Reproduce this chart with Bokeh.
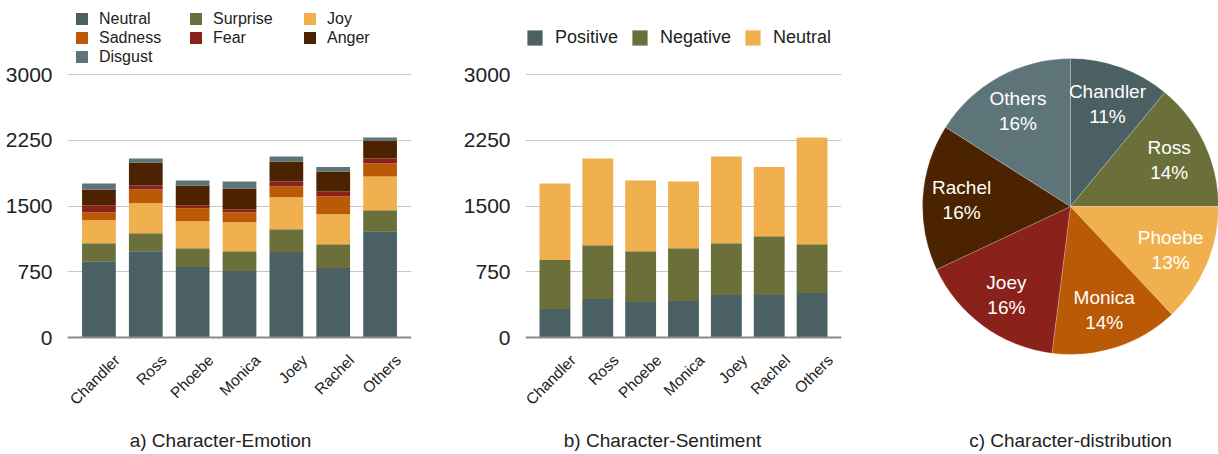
import math
from bokeh.plotting import figure
from bokeh.models import FactorRange, Range1d, FixedTicker, Label, ColumnDataSource, Span
from bokeh.layouts import row
from bokeh.embed import file_html
from bokeh.resources import INLINE
from bokeh.core.properties import value

FONT = "Liberation Sans"
TEXT = "#222222"

# ---------------- data ----------------
characters = ["Chandler", "Ross", "Phoebe", "Monica", "Joey", "Rachel", "Others"]

emotions = ["Neutral", "Surprise", "Joy", "Sadness", "Fear", "Anger", "Disgust"]
emo_neutral = [871, 985, 803, 758, 974, 792, 1212]
emo_surprise = [205, 204, 216, 227, 261, 272, 239]
emo_joy = [261, 341, 307, 329, 364, 341, 386]
emo_sadness = [91, 159, 147, 114, 125, 205, 148]
emo_fear = [80, 46, 35, 34, 56, 57, 57]
emo_anger = [181, 261, 227, 239, 228, 227, 204]
emo_disgust = [69, 46, 57, 79, 56, 51, 34]
emotion_colors = ["#4a6063", "#6b703a", "#f0b04e", "#bb5a06", "#8b211b", "#4b2300", "#5d7478"]

sentiments = ["Positive", "Negative", "Neutral"]
sen_positive = [326, 439, 405, 417, 485, 485, 508]
sen_negative = [557, 614, 580, 602, 591, 670, 556]
sen_neutral = [875, 989, 807, 761, 988, 790, 1216]
sentiment_colors = ["#4a6063", "#6b703a", "#f0b04e"]

y_ticks = [0, 750, 1500, 2250, 3000]

pie_share = [11, 14, 13, 14, 16, 16, 16]
pie_colors = ["#4a6063", "#6b703a", "#f0b04e", "#bb5a06", "#8b211b", "#4b2300", "#5d7478"]

titles = ["a) Character-Emotion", "b) Character-Sentiment", "c) Character-distribution"]

# ---------------- layout constants (pixels) ----------------
FIG_H = 454
ZERO_Y = 337        # page y of value 0
PX_PER_UNIT = 263.0 / 3000.0
TITLE_Y = 440
XLAB_Y = 357
PAD = 8             # frame margin beside the outer bars' slots


def to_val(py):
    return (ZERO_Y - py) / PX_PER_UNIT


def bar_chart(width, slots_left, slots_right, names, series, colors, title, title_dx,
              legend_loc, ncols, glyph, standoff, spacing, label_width, label_font):
    data = {"character": characters}
    for n, s in zip(names, series):
        data[n] = s
    src = ColumnDataSource(data)
    slot = (slots_right - slots_left) / len(characters)
    rp = 2 * (PAD / slot) / len(characters)
    p = figure(width=width, height=FIG_H,
               x_range=FactorRange(*characters, range_padding=rp, range_padding_units="percent"),
               y_range=Range1d(to_val(FIG_H), to_val(0)), toolbar_location=None,
               output_backend="svg", min_border_left=slots_left - PAD,
               min_border_right=width - slots_right - PAD,
               min_border_top=0, min_border_bottom=0, x_axis_location=None)
    p.vbar_stack(names, x="character", width=0.72, color=colors, line_color=None,
                 source=src, legend_label=names)
    p.outline_line_color = None
    p.xgrid.grid_line_color = None
    p.ygrid.ticker = FixedTicker(ticks=y_ticks)
    p.ygrid.grid_line_color = "#c6c6c6"
    p.ygrid.grid_line_width = 1
    p.yaxis.ticker = FixedTicker(ticks=y_ticks)
    p.yaxis.axis_line_color = None
    p.yaxis.major_tick_line_color = None
    p.yaxis.minor_tick_line_color = None
    p.yaxis.major_label_text_font = FONT
    p.yaxis.major_label_text_font_size = "21px"
    p.yaxis.major_label_text_color = TEXT
    p.yaxis.major_label_standoff = 17 - PAD

    # base line and category labels
    p.add_layout(Span(location=0, dimension="width", line_color="#8a8a8a", line_width=2))
    p.text(x="character", y=to_val(XLAB_Y), text="character", source=src, angle=math.pi / 4,
           x_offset=18, text_align="right", text_baseline="middle", text_color=TEXT,
           text_font=value(FONT), text_font_size="15.5px")

    lg = p.legend[0]
    lg.location = legend_loc
    lg.orientation = "horizontal"
    if ncols:
        lg.ncols = ncols
    lg.border_line_color = None
    lg.background_fill_alpha = 0
    lg.padding = 0
    lg.margin = 0
    lg.spacing = spacing
    lg.glyph_width = glyph
    lg.glyph_height = glyph
    lg.label_standoff = standoff
    lg.label_height = 19
    lg.label_width = label_width
    lg.label_text_font = FONT
    lg.label_text_font_size = label_font
    lg.label_text_color = TEXT

    p.add_layout(Label(x=len(characters) / 2, y=to_val(TITLE_Y), x_offset=title_dx, text=title,
                       text_align="center", text_baseline="middle", text_font=FONT,
                       text_font_size="19px", text_color=TEXT))
    return p


# chart a: bar slots span page x 75..403; chart b: 533..833 (figure b starts at 440)
pa = bar_chart(440, 75, 403, emotions,
               [emo_neutral, emo_surprise, emo_joy, emo_sadness, emo_fear, emo_anger, emo_disgust],
               emotion_colors, titles[0], -19, (PAD - 1, FIG_H - 66), 3, 15, 10, 0, 89, "16px")
pb = bar_chart(430, 93, 393, sentiments, [sen_positive, sen_negative, sen_neutral],
               sentiment_colors, titles[1], -21, (0, FIG_H - 47.5), None, 19, 11, 12, 20, "18px")

# ---------------- pie ----------------
PIE_CX, PIE_CY, PIE_R = 200, 206, 148      # centre within the figure, radius (px)
starts, ends, lx, ly, texts = [], [], [], [], []
cum = 0.0
for name, share in zip(characters, pie_share):
    a0 = math.pi / 2 - 2 * math.pi * cum / 100.0
    a1 = math.pi / 2 - 2 * math.pi * (cum + share) / 100.0
    mid = (a0 + a1) / 2
    starts.append(a0)
    ends.append(a1)
    lx.append(0.737 * PIE_R * math.cos(mid))
    ly.append(0.737 * PIE_R * math.sin(mid))
    texts.append(f"{name}\n{share}%")
    cum += share

pie_src = ColumnDataSource(dict(start=starts, end=ends, color=pie_colors, x=lx, y=ly, text=texts))
PIE_W = 348
pc = figure(width=PIE_W, height=FIG_H,
            x_range=Range1d(-PIE_CX, PIE_W - PIE_CX),
            y_range=Range1d(-(FIG_H - PIE_CY), PIE_CY),
            toolbar_location=None, output_backend="svg", x_axis_type=None, y_axis_type=None,
            min_border=0)
pc.outline_line_color = None
pc.grid.visible = False
pc.wedge(x=0, y=0, radius=PIE_R, start_angle="start", end_angle="end", direction="clock",
         fill_color="color", line_color="#ffffff", line_alpha=0.35, line_width=0.6, source=pie_src)
pc.text(x="x", y="y", text="text", source=pie_src, text_align="center", text_baseline="middle",
        text_color="#ffffff", text_font=value(FONT), text_font_size="19px", text_line_height=1.2)
pc.add_layout(Label(x=0, y=PIE_CY - TITLE_Y, text=titles[2], text_align="center",
                    text_baseline="middle", text_font=FONT, text_font_size="19px",
                    text_color=TEXT))

layout = row(pa, pb, pc)
open("out.html", "w").write(file_html(layout, INLINE))
